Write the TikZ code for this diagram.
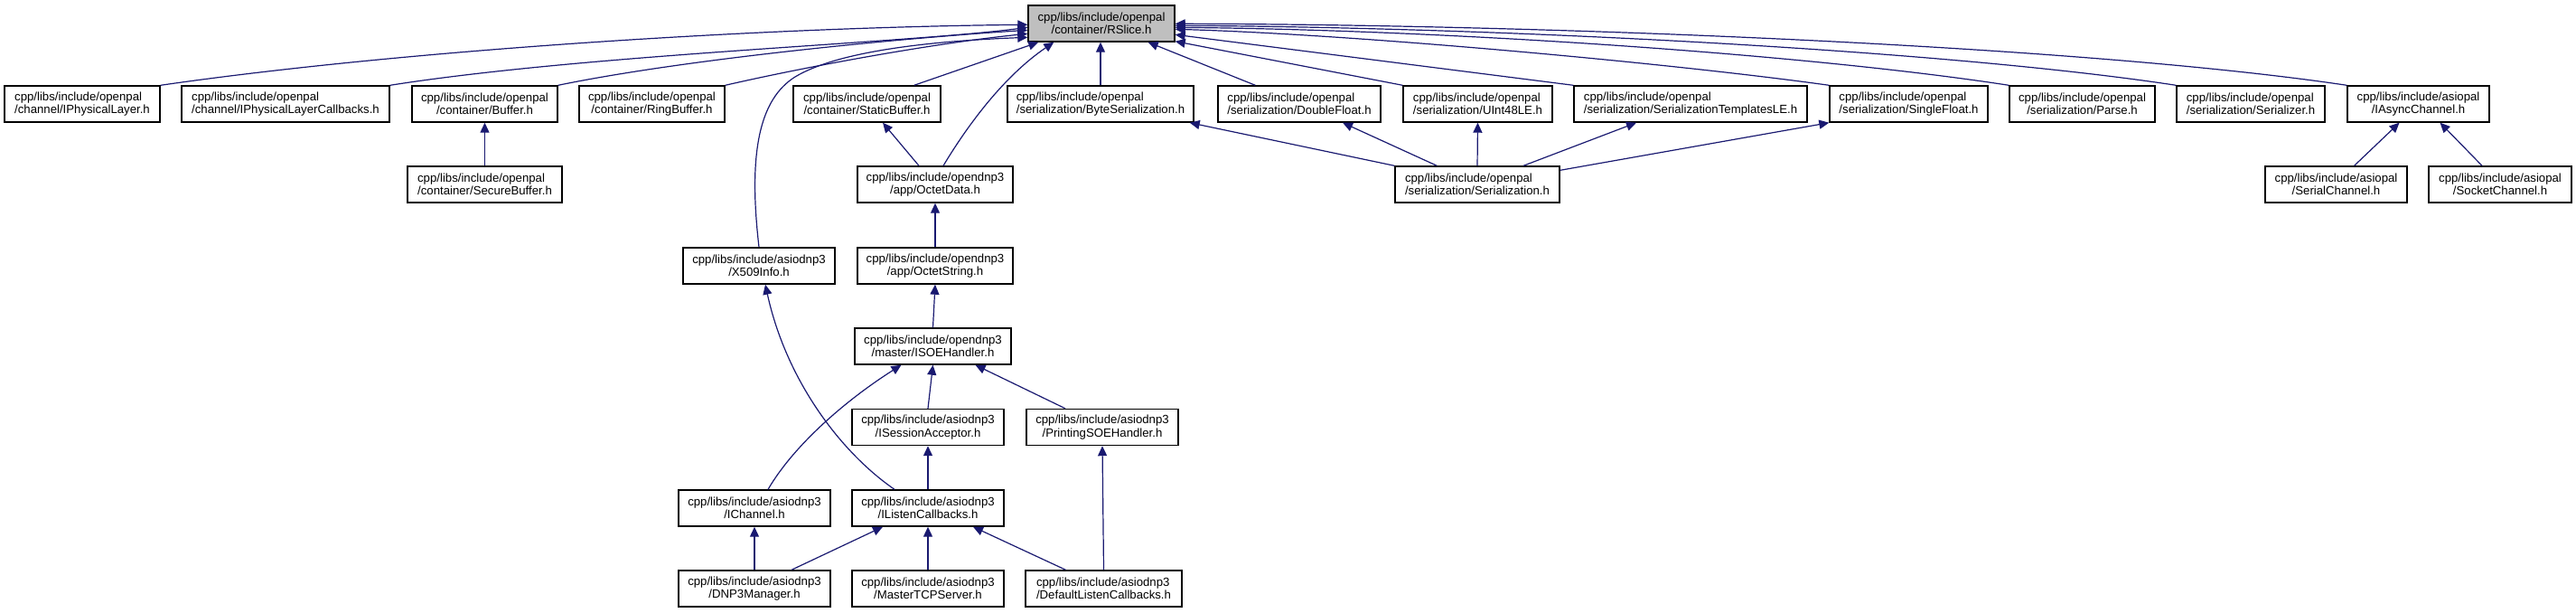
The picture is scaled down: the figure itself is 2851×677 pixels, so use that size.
\documentclass[tikz,border=0pt]{standalone}
\usepackage{fontspec}
\setmainfont{Liberation Sans}
\usetikzlibrary{arrows.meta,calc}
\definecolor{edgeblue}{HTML}{191970}
\definecolor{rootgray}{HTML}{BFBFBF}
\newsavebox\lnA
\newsavebox\lnB
\newlength\lnW
\newcommand\twoline[2]{\sbox\lnA{#1}\sbox\lnB{#2}\setlength\lnW{\wd\lnA}\ifdim\wd\lnB>\lnW\setlength\lnW{\wd\lnB}\fi\vbox{\hbox to\lnW{\usebox\lnA\hfil}\hbox to\lnW{\hfil\usebox\lnB\hfil}}}
\begin{document}
\begin{tikzpicture}[x=0.5pt,y=-0.5pt,
  box/.style={draw=black, line width=0.7pt, fill=white, minimum height=20pt, inner sep=1pt,
    font=\fontsize{6.6pt}{7.2pt}\selectfont, anchor=center},
  rootbox/.style={box, fill=rootgray},
  edge/.style={draw=edgeblue, line width=0.6pt, -{Triangle[length=5.5pt,width=5pt]}}]
\useasboundingbox (0,0) rectangle (2851,677);

% row 0
\node[rootbox, minimum width=81pt] (RSlice) at (1219,26) {\twoline{cpp/libs/include/openpal}{/container/RSlice.h}};
% row 1
\node[box, minimum width=86pt] (IPL) at (91,115) {\twoline{cpp/libs/include/openpal}{/channel/IPhysicalLayer.h}};
\node[box, minimum width=115pt] (IPLC) at (316,115) {\twoline{cpp/libs/include/openpal}{/channel/IPhysicalLayerCallbacks.h}};
\node[box, minimum width=80.5pt] (Buffer) at (536.5,115) {\twoline{cpp/libs/include/openpal}{/container/Buffer.h}};
\node[box, minimum width=80.5pt] (RingBuffer) at (721.5,115) {\twoline{cpp/libs/include/openpal}{/container/RingBuffer.h}};
\node[box, minimum width=81.5pt] (StaticBuffer) at (959.5,115) {\twoline{cpp/libs/include/openpal}{/container/StaticBuffer.h}};
\node[box, minimum width=103pt] (ByteSer) at (1218,115) {\twoline{cpp/libs/include/openpal}{/serialization/ByteSerialization.h}};
\node[box, minimum width=90pt] (DoubleFloat) at (1438,115) {\twoline{cpp/libs/include/openpal}{/serialization/DoubleFloat.h}};
\node[box, minimum width=82.5pt] (UInt48LE) at (1635.5,115) {\twoline{cpp/libs/include/openpal}{/serialization/UInt48LE.h}};
\node[box, minimum width=129pt] (SerTemplLE) at (1871,115) {\twoline{cpp/libs/include/openpal}{/serialization/SerializationTemplatesLE.h}};
\node[box, minimum width=87.5pt] (SingleFloat) at (2112.5,115) {\twoline{cpp/libs/include/openpal}{/serialization/SingleFloat.h}};
\node[box, minimum width=80.5pt] (Parse) at (2304.5,115) {\twoline{cpp/libs/include/openpal}{/serialization/Parse.h}};
\node[box, minimum width=82pt] (Serializer) at (2491,115) {\twoline{cpp/libs/include/openpal}{/serialization/Serializer.h}};
\node[box, minimum width=78.5pt] (IAsyncChannel) at (2676.5,115) {\twoline{cpp/libs/include/asiopal}{/IAsyncChannel.h}};
% row 2
\node[box, minimum width=85.5pt] (SecureBuffer) at (536.5,204) {\twoline{cpp/libs/include/openpal}{/container/SecureBuffer.h}};
\node[box, minimum width=86pt] (OctetData) at (1035,204) {\twoline{cpp/libs/include/opendnp3}{/app/OctetData.h}};
\node[box, minimum width=91pt] (Serialization) at (1635,204) {\twoline{cpp/libs/include/openpal}{/serialization/Serialization.h}};
\node[box, minimum width=78.5pt] (SerialChannel) at (2585.5,204) {\twoline{cpp/libs/include/asiopal}{/SerialChannel.h}};
\node[box, minimum width=79pt] (SocketChannel) at (2767,204) {\twoline{cpp/libs/include/asiopal}{/SocketChannel.h}};
% row 3
\node[box, minimum width=84pt] (X509) at (840,294) {\twoline{cpp/libs/include/asiodnp3}{/X509Info.h}};
\node[box, minimum width=86pt] (OctetString) at (1035,294) {\twoline{cpp/libs/include/opendnp3}{/app/OctetString.h}};
% row 4
\node[box, minimum width=86.5pt] (ISOEHandler) at (1032.5,383) {\twoline{cpp/libs/include/opendnp3}{/master/ISOEHandler.h}};
% row 5
\node[box, minimum width=84pt] (ISessionAcceptor) at (1027,472.5) {\twoline{cpp/libs/include/asiodnp3}{/ISessionAcceptor.h}};
\node[box, minimum width=84pt] (PrintingSOE) at (1220,472.5) {\twoline{cpp/libs/include/asiodnp3}{/PrintingSOEHandler.h}};
% row 6
\node[box, minimum width=84pt] (IChannel) at (835,562) {\twoline{cpp/libs/include/asiodnp3}{/IChannel.h}};
\node[box, minimum width=84pt] (IListen) at (1027,562) {\twoline{cpp/libs/include/asiodnp3}{/IListenCallbacks.h}};
% row 7
\node[box, minimum width=84pt] (DNP3Manager) at (835,651) {\twoline{cpp/libs/include/asiodnp3}{/DNP3Manager.h}};
\node[box, minimum width=84pt] (MasterTCP) at (1027,651) {\twoline{cpp/libs/include/asiodnp3}{/MasterTCPServer.h}};
\node[box, minimum width=86.5pt] (DLC) at (1221.5,651) {\twoline{cpp/libs/include/asiodnp3}{/DefaultListenCallbacks.h}};

% edges into RSlice
\draw[edge] (IPL.north east) .. controls (450,55) and (850,30) .. ($(RSlice.north west)+(0,22)$);
\draw[edge] (IPLC.north east) .. controls (650,60) and (1000,48) .. ($(RSlice.north west)+(0,25)$);
\draw[edge] (Buffer.north east) .. controls (760,65) and (1000,42) .. ($(RSlice.north west)+(0,28)$);
\draw[edge] (RingBuffer.north east) .. controls (900,72) and (1040,47) .. ($(RSlice.north west)+(0,32)$);
\draw[edge] (X509.north) .. controls (828,170) and (840,110) .. (880,85) .. controls (930,55) and (1040,45) .. ($(RSlice.north west)+(0,36)$);
\draw[edge] ($(StaticBuffer.north east)+(-30,0)$) -- ($(RSlice.south west)+(12,0)$);
\draw[edge] ($(OctetData.north)+(9,0)$) .. controls (1070,140) and (1110,85) .. ($(RSlice.south west)+(29,0)$);
\draw[edge] (ByteSer.north) -- (ByteSer.north |- RSlice.south);
\draw[edge] ($(DoubleFloat.north west)+(42,0)$) -- ($(RSlice.south east)+(-30,0)$);
\draw[edge] (UInt48LE.north west) -- ($(RSlice.south east)+(0,-1)$);
\draw[edge] (SerTemplLE.north west) -- ($(RSlice.north east)+(0,33)$);
\draw[edge] (SingleFloat.north west) .. controls (1850,70) and (1500,38) .. ($(RSlice.north east)+(0,27)$);
\draw[edge] (Parse.north west) .. controls (2000,60) and (1600,33) .. ($(RSlice.north east)+(0,25)$);
\draw[edge] (Serializer.north west) .. controls (2150,55) and (1650,30) .. ($(RSlice.north east)+(0,23)$);
\draw[edge] (IAsyncChannel.north west) .. controls (2300,50) and (1700,27) .. ($(RSlice.north east)+(0,21)$);

% row 2 edges
\draw[edge] (SecureBuffer.north) -- (Buffer.south);
\draw[edge] ($(OctetData.north)+(-18,0)$) -- ($(StaticBuffer.south)+(17.5,0)$);
\draw[edge] (Serialization.north west) -- ($(ByteSer.south east)+(-5,0)$);
\draw[edge] ($(Serialization.north west)+(47,0)$) -- ($(DoubleFloat.south)+(48,0)$);
\draw[edge] (Serialization.north) -- (UInt48LE.south);
\draw[edge] ($(Serialization.north)+(51,0)$) -- ($(SerTemplLE.south)+(-60,0)$);
\draw[edge] ($(Serialization.north east)+(0,5)$) -- (SingleFloat.south west);
\draw[edge] ($(SerialChannel.north)+(20,0)$) -- ($(IAsyncChannel.south)+(-21,0)$);
\draw[edge] ($(SocketChannel.north)+(-20,0)$) -- ($(IAsyncChannel.south)+(24,0)$);

% lower edges
\draw[edge] (OctetString.north) -- (OctetData.south);
\draw[edge] (ISOEHandler.north) -- (OctetString.south);
\draw[edge] ($(IChannel.north)+(15,0)$) .. controls (880,490) and (940,440) .. ($(ISOEHandler.south)+(-35,0)$);
\draw[edge] (ISessionAcceptor.north) -- (ISOEHandler.south);
\draw[edge] ($(PrintingSOE.north)+(-41,0)$) -- ($(ISOEHandler.south)+(47,0)$);
\draw[edge] ($(IListen.north)+(-37,0)$) .. controls (930,500) and (870,420) .. ($(X509.south)+(7,0)$);
\draw[edge] (IListen.north) -- (ISessionAcceptor.south);
\draw[edge] (DNP3Manager.north) -- (IChannel.south);
\draw[edge] ($(DNP3Manager.north)+(41,0)$) -- ($(IListen.south)+(-50,0)$);
\draw[edge] (MasterTCP.north) -- (IListen.south);
\draw[edge] ($(DLC.north)+(-42,0)$) -- ($(IListen.south)+(50,0)$);
\draw[edge] (DLC.north) -- (PrintingSOE.south);
\end{tikzpicture}
\end{document}
